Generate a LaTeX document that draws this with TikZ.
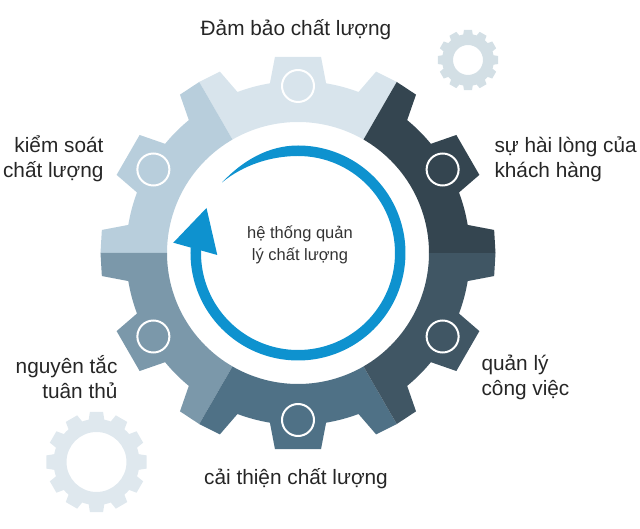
\documentclass[tikz,border=0pt]{standalone}
\usepackage{fontspec}
\setmainfont{Liberation Sans}
\definecolor{segtop}{HTML}{D8E4EC}
\definecolor{segleft}{HTML}{B8CEDC}
\definecolor{seglow}{HTML}{7B98AA}
\definecolor{segbot}{HTML}{4F7186}
\definecolor{segright}{HTML}{405664}
\definecolor{segdark}{HTML}{344550}
\definecolor{ringblue}{HTML}{0E92CF}
\definecolor{sparelight}{HTML}{DFE8EE}
\definecolor{sparegrey}{HTML}{D3DFE5}
\tikzset{
    label/.style={font=\fontsize{20.8}{25}\selectfont,text=black!85},
    hub/.style={font=\fontsize{16.5}{22}\selectfont,text=black!80,align=center},
    hole/.style={draw=white,line width=2pt},
}
% one sixth of the big wheel: start angle, colour
\newcommand{\gearsector}[2]{
    \fill[#2] (#1:131) -- (#1:197.5) -- (#1+6.7:197.5) -- (#1+9.4:172) arc (#1+9.4:#1+20.6:172)
        -- (#1+23.3:197.5) -- (#1+36.7:197.5) -- (#1+39.4:172) arc (#1+39.4:#1+50.6:172)
        -- (#1+53.3:197.5) -- (#1+60:197.5) -- (#1+60:131) arc (#1+60:#1:131) -- cycle;
}
% small wheel: centre, outer, root, hole radius, colour
\newcommand{\sparegear}[5]{
    \fill[#5,even odd rule,shift={#1}] (-7.5:#2)
        \foreach \a in {0,30,...,330} {
            -- (\a-7.5:#2) -- (\a+7.5:#2) -- (\a+10.5:#3) arc (\a+10.5:\a+19.5:#3)
        } -- cycle (0,0) circle (#4);
}
\begin{document}
\begin{tikzpicture}[x=1pt,y=1pt]
    \useasboundingbox (-298,-276) rectangle (342,253);
    %% Small wheels
    \sparegear{(170,193)}{30.5}{26}{15}{sparegrey}
    \sparegear{(-201.5,-209)}{50.5}{43}{30}{sparelight}
    %% Big wheel
    \gearsector{60}{segtop}
    \gearsector{120}{segleft}
    \gearsector{180}{seglow}
    \gearsector{240}{segbot}
    \gearsector{300}{segright}
    \gearsector{0}{segdark}
    \foreach \a in {30,90,...,330}
        \draw[hole] (\a:167) circle (16);
    %% Blue ring
    \fill[ringblue] (177:107.5) arc (177:450:107.5) .. controls (-29.8,107.5) and (-55.6,92.1) .. (-75.8,70.7)
        .. controls (-53.8,88.7) and (-26,97) .. (0,97) arc (450:177:97) -- cycle;
    \fill[ringblue] (-91.5,45) -- (-124.7,10.3) -- (-80.7,-2) -- cycle;
    %% Labels
    \node[hub] (hub) at (2,8) {hệ thống quản\\lý chất lượng};
    \node[label] (assurance) at (-2,223) {Đảm bảo chất lượng};
    \node[label,align=right,anchor=east] (control) at (-191,94) {kiểm soát\\chất lượng};
    \node[label,align=left,anchor=west] (satisfaction) at (193,94) {sự hài lòng của\\khách hàng};
    \node[label,align=left,anchor=west] (work) at (180,-124.5) {quản lý\\công việc};
    \node[label,align=right,anchor=east] (principles) at (-177,-124.5) {nguyên tắc\\tuân thủ};
    \node[label] (improvement) at (-2,-226) {cải thiện chất lượng};
\end{tikzpicture}
\end{document}
